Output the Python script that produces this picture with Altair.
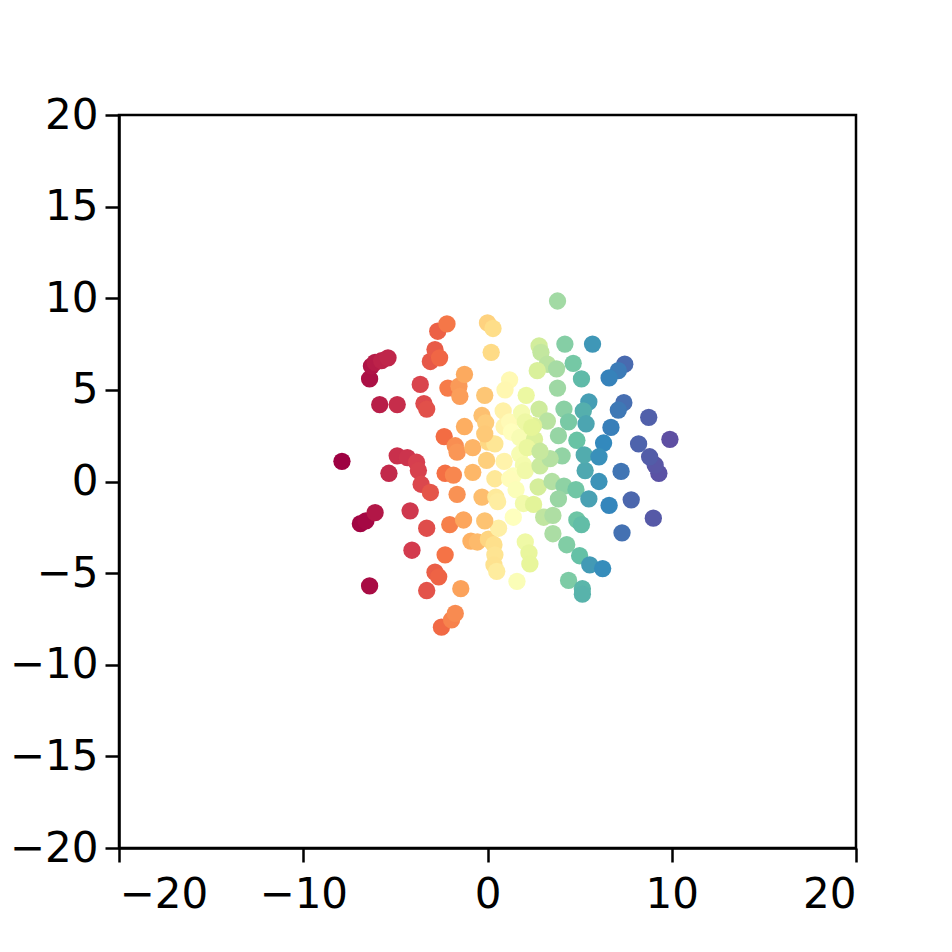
import altair as alt
import pandas as pd

xs = [-7.9, -6.9, -6.6, -6.1, -6.4, -6.4, -6.3, -6.1, -5.75, -5.4, -5.85, -4.9, -5.35, -4.9, -4.35, -3.85,
      -3.75, -3.6, -3.1, -4.2, -4.1, -3.3, -3.65, -3.45, -3.3, -3.1, -2.85, -2.6, -2.7, -2.2, -2.35, -2.3,
      -1.85, -1.65, -2.05, -1.3, -2.3, -2.85, -2.65, -3.3, -2.5, -1.95, -1.75, -1.45, -2.15, -1.55, -1.25,
      -1.5, -1.25, -1.75, -1.65, -0.8, -0.8, -0.3, 0.45, -0.9, -0.55, 0.05, 0.35, 0.4, 0.35, 0.5, 0.6,
      -0.15, 0.55, 1.4, 0.0, 0.3, 0.2, -0.15, -0.3, -0.1, 0.05, 0.4, -0.15, -0.05, 0.9, 1.2, 0.95, 0.85,
      0.9, 1.2, 1.3, 1.75, 1.85, 2.1, 1.75, 1.95, 1.4, 0.4, 1.2, 2.05, 2.85, 1.55, 1.95, 2.5, 2.75, 3.5,
      4.15, 4.8, 3.85, 5.5, 5.3, 6.05, 7.25, 9.3, 9.1, 8.8, 6.6, 7.8, 9.0, 7.3, 3.05, 3.55, 4.85, 5.1,
      3.55, 4.3, 2.05, 2.25, 2.3, 5.0, 5.55, 6.25, 4.4, 5.15, 5.15, 1.6, 3.8, 4.2, 5.7, 2.8, 2.9, 4.65,
      3.25, 3.75, 2.7, 5.1, 7.45, 7.1, 6.6, 3.8, 2.8, 4.15, 5.5, 5.2, 7.4, 7.1, 8.75, 4.4, 3.25, 2.5,
      5.35, 6.7, 9.9, 8.2, 6.3, 4.85, 3.85, 2.55, 2.15, 5.25, 6.05, 4.05, 3.4, 2.85, 2.05, 2.4]
ys = [1.1, -2.3, -2.15, -1.7, -5.7, 5.6, 6.3, 6.5, 6.6, 6.75, 4.2, 4.2, 0.45, 1.4, 1.3, 1.05,
      0.6, -0.15, -0.6, -1.6, -3.75, -2.55, 5.3, 4.25, 3.95, 6.55, 7.2, 6.75, 8.2, 8.6, 2.45, 0.45,
      0.35, -0.7, -2.35, -2.1, -4.0, -4.95, -5.2, -5.95, -7.95, -7.55, -7.2, -5.85, 5.1, 5.2, 5.85,
      4.65, 3.0, 1.95, 1.6, 1.85, 0.5, -0.85, -0.85, -3.25, -3.3, -3.15, -3.45, -4.0, -4.55, -4.9, -2.55,
      -2.15, -1.1, -1.95, 8.65, 8.35, 7.05, 4.7, 3.6, 3.2, 2.15, 2.05, 2.6, 1.15, 1.1, 5.55, 5.0, 3.85,
      3.0, 3.25, 2.7, 2.4, 3.75, 4.7, 1.5, 0.9, 0.3, 0.15, 0.15, 0.6, 0.85, -0.45, -1.2, -1.25, -0.3, 0.0,
      -0.25, -0.45, -0.95, -0.95, 0.6, 0.0, 0.55, 0.45, 0.9, 1.35, -1.3, -1.0, -2.0, -2.8, -1.95, -1.85, -2.1, -2.35,
      -2.85, -3.45, -3.3, -3.9, -4.5, -4.05, -4.55, -4.75, -5.4, -5.85, -6.15, -5.45, 9.85, 7.5, 7.5, 7.4, 7.05, 6.45,
      6.4, 6.15, 6.05, 5.6, 6.4, 6.05, 5.65, 5.1, 3.95, 3.95, 4.35, 3.85, 4.3, 3.9, 3.5, 3.25, 3.3, 3.05,
      3.15, 2.95, 2.3, 2.05, 2.1, 2.25, 2.5, 2.3, 1.85, 1.45, 1.35, 1.4, 1.25, 1.65, 3.25, 2.95]

df = pd.DataFrame({"x": xs, "y": ys})

xticks = [-20, -10, 0, 10, 20]
yticks = [-20, -15, -10, -5, 0, 5, 10, 15, 20]

spectral = ["#9e0142", "#d53e4f", "#f46d43", "#fdae61", "#fee08b", "#ffffbf",
            "#e6f598", "#abdda4", "#66c2a5", "#3288bd", "#5e4fa2"]
n = len(xs)
cdomain = [(n - 1) * i / (len(spectral) - 1) for i in range(len(spectral))]

chart = alt.Chart(df).transform_window(
    rank="row_number()", sort=[alt.SortField("x", order="ascending")]
).transform_calculate(
    rk="datum.rank - 1"
).mark_circle(size=300, opacity=1).encode(
    x=alt.X("x:Q", scale=alt.Scale(domain=[-20, 20], nice=False, zero=False),
            axis=alt.Axis(values=xticks, title=None, grid=False)),
    y=alt.Y("y:Q", scale=alt.Scale(domain=[-20, 20], nice=False, zero=False),
            axis=alt.Axis(values=yticks, title=None, grid=False)),
    color=alt.Color("rk:Q", scale=alt.Scale(domain=cdomain, range=spectral, interpolate="rgb"), legend=None),
).properties(
    width=737, height=733,
    autosize=alt.AutoSizeParams(type="none"),
    padding={"left": 111, "top": 107, "right": 80, "bottom": 90},
).configure_view(
    stroke="black", strokeWidth=2.5
).configure_axis(
    domainColor="black", domainWidth=2.5, tickColor="black", tickWidth=2.5, tickSize=14,
    labelFont="DejaVu Sans", labelFontSize=42, labelColor="black",
).configure_axisX(
    labelPadding=12
).configure_axisY(
    labelPadding=7
)

chart.save("out.html", embed_options={"renderer": "svg", "actions": False})
